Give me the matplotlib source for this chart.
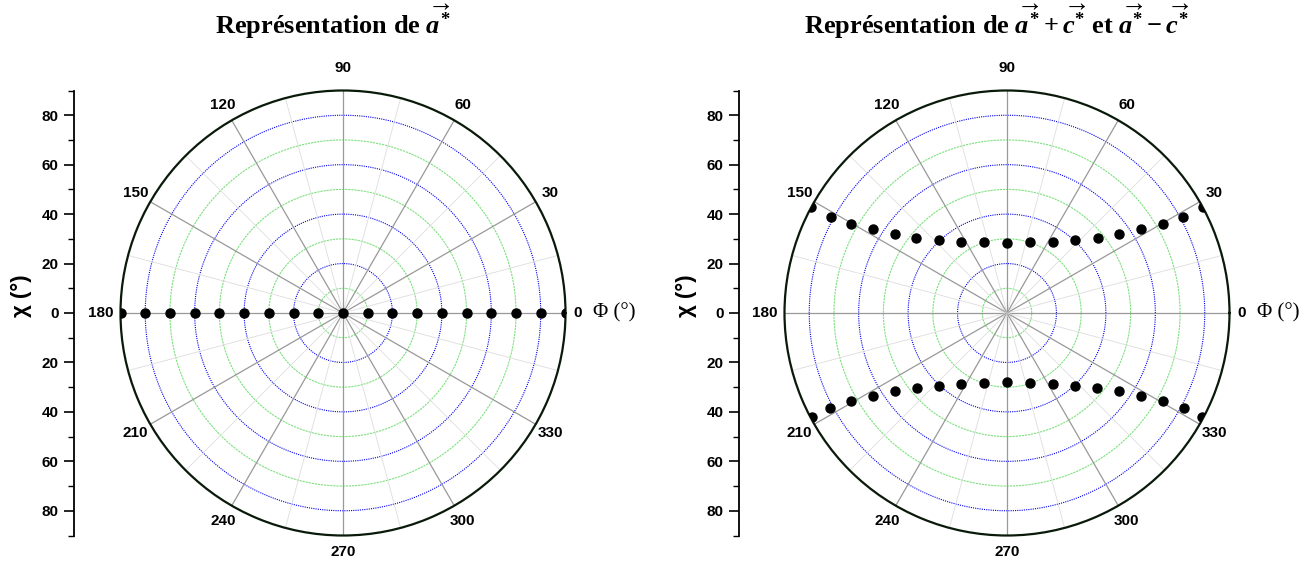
import numpy as np
import matplotlib
matplotlib.use("Agg")
import matplotlib.pyplot as plt
from matplotlib.ticker import MultipleLocator, FixedLocator

plt.rcParams['mathtext.fontset'] = 'custom'
plt.rcParams['mathtext.rm'] = 'Liberation Serif:bold'
plt.rcParams['mathtext.it'] = 'Liberation Serif:italic:bold'
plt.rcParams['mathtext.bf'] = 'Liberation Serif:bold'

# ---------------- data ----------------
# left: a*  (phi in degrees, chi in degrees)
a_chi_east = [0, 10, 20, 30, 40, 50, 60, 70, 80, 90]
a_phi_east = [0] * 10
a_chi_west = [10, 20, 30, 40, 50, 60, 70, 80, 90]
a_phi_west = [180] * 9

# right: a* + c*  (upper curve)
apc_phi = [151.5, 151.4, 150.2, 148.1, 144.8, 140.3, 132.8, 122.6, 107.9, 90.0,
           72.1, 57.4, 47.2, 39.7, 35.2, 31.9, 29.8, 28.6, 28.5]
apc_chi = [90.0, 81.3, 72.7, 64.0, 55.6, 47.6, 40.4, 34.3, 30.0, 28.4,
           30.0, 34.3, 40.4, 47.6, 55.6, 64.0, 72.7, 81.3, 90.0]
# right: a* - c*  (lower curve)
amc_phi = [208.1, 208.4, 209.4, 211.7, 214.9, 219.6, 227.0, 237.1, 251.9, 270.0,
           288.1, 302.9, 313.0, 320.4, 325.1, 328.3, 330.6, 331.6, 331.9]
amc_chi = [89.6, 81.2, 72.4, 63.8, 55.3, 47.5, 40.3, 34.1, 29.6, 28.1,
           29.6, 34.1, 40.3, 47.5, 55.3, 63.8, 72.4, 81.2, 89.6]

theta_labels = ['0', '30', '60', '90', '120', '150', '180', '210', '240', '270', '300', '330']
theta_label_pos = [0, 30, 60, 90, 120, 150, 180, 210, 240, 270, 300, 330]
chi_ticks = [-80, -60, -40, -20, 0, 20, 40, 60, 80]
chi_ticklabels = ['80', '60', '40', '20', '0', '20', '40', '60', '80']

titles = [r'Représentation de $\overrightarrow{a^{*}}$',
          r'Représentation de $\overrightarrow{a^{*}}+\overrightarrow{c^{*}}$ et $\overrightarrow{a^{*}}-\overrightarrow{c^{*}}$']

# ---------------- figure ----------------
W, H = 1311, 562
fig = plt.figure(figsize=(W / 100, H / 100), dpi=100)

R = 222.5
centers = [(343, 313), (1007, 313)]
spines_x = [74, 739]
title_x = [333, 997]
label_r = {0: 94.8, 180: 98.0, 90: 99.0, 270: 96.5}


def make_polar(cx, cy):
    ax = fig.add_axes([(cx - R) / W, (H - cy - R) / H, 2 * R / W, 2 * R / H],
                      projection='polar')
    ax.set_theta_zero_location('E')
    ax.set_theta_direction(1)
    ax.set_rlim(0, 90)
    ax.grid(False)
    ax.set_yticks([])
    ax.set_xticks(np.deg2rad(np.arange(0, 360, 15)))
    ax.set_xticklabels([])
    ax.tick_params(axis='x', direction='in', length=5, width=1.0, color='black')
    ax.spines['polar'].set_linewidth(1.6)
    ax.spines['polar'].set_color('#0a1a0a')
    th = np.linspace(0, 2 * np.pi, 721)
    for r in range(10, 90, 10):
        if r % 20 == 0:
            ax.plot(th, np.full_like(th, r), color='#0000ee', lw=0.8,
                    ls=(0, (1, 1)), zorder=1)
        else:
            ax.plot(th, np.full_like(th, r), color='#7ee07e', lw=0.8,
                    ls=(0, (2, 0.8)), zorder=1)
    for d in range(0, 360, 15):
        major = d % 30 == 0
        ax.plot([np.deg2rad(d)] * 2, [0, 90],
                color='#999999' if major else '#dddddd',
                lw=0.9 if major else 0.6, zorder=1.5)
    for d, lab in zip(theta_label_pos, theta_labels):
        rr = label_r.get(d, 97.0)
        ax.text(np.deg2rad(d), rr, lab, ha='center', va='center',
                fontsize=11, fontweight='bold', family='Liberation Sans',
                clip_on=False)
    return ax


def make_chi_axis(sx, cy):
    ax = fig.add_axes([sx / W, (H - cy - R) / H, 0.0001, 2 * R / H])
    ax.set_ylim(-90, 90)
    ax.set_xticks([])
    for s in ('top', 'right', 'bottom'):
        ax.spines[s].set_visible(False)
    ax.spines['left'].set_linewidth(1.3)
    ax.yaxis.set_major_locator(FixedLocator(chi_ticks))
    ax.yaxis.set_minor_locator(MultipleLocator(10))
    ax.set_yticklabels(chi_ticklabels)
    ax.tick_params(axis='y', which='major', length=7, width=1.2, pad=4)
    ax.tick_params(axis='y', which='minor', length=4, width=1.0)
    for t in ax.get_yticklabels():
        t.set_fontweight('bold')
        t.set_fontsize(11)
        t.set_family('Liberation Sans')
    ax.patch.set_visible(False)
    return ax


axes = []
for i in range(2):
    cx, cy = centers[i]
    ax = make_polar(cx, cy)
    axes.append(ax)
    make_chi_axis(spines_x[i], cy)
    fig.text((spines_x[i] - 53) / W, 1 - 296 / H, 'χ (°)', rotation=90,
             ha='center', va='center', fontsize=16, fontweight='bold',
             family='Liberation Sans')
    fig.text((cx + R + 49) / W, 1 - cy / H, 'Φ (°)', ha='center', va='center',
             fontsize=15, family='Liberation Serif')
    fig.text(title_x[i] / W, 1 - 22 / H, titles[i], ha='center', va='center',
             fontsize=19, fontweight='bold', family='Liberation Serif')

ms = 6.5
axes[0].plot(np.deg2rad(a_phi_east), a_chi_east, 'o', color='black', ms=ms, zorder=5)
axes[0].plot(np.deg2rad(a_phi_west), a_chi_west, 'o', color='black', ms=ms, zorder=5)
axes[1].plot(np.deg2rad(apc_phi), apc_chi, 'o', color='black', ms=ms, zorder=5)
axes[1].plot(np.deg2rad(amc_phi), amc_chi, 'o', color='black', ms=ms, zorder=5)

fig.savefig('out.png', dpi=100)
